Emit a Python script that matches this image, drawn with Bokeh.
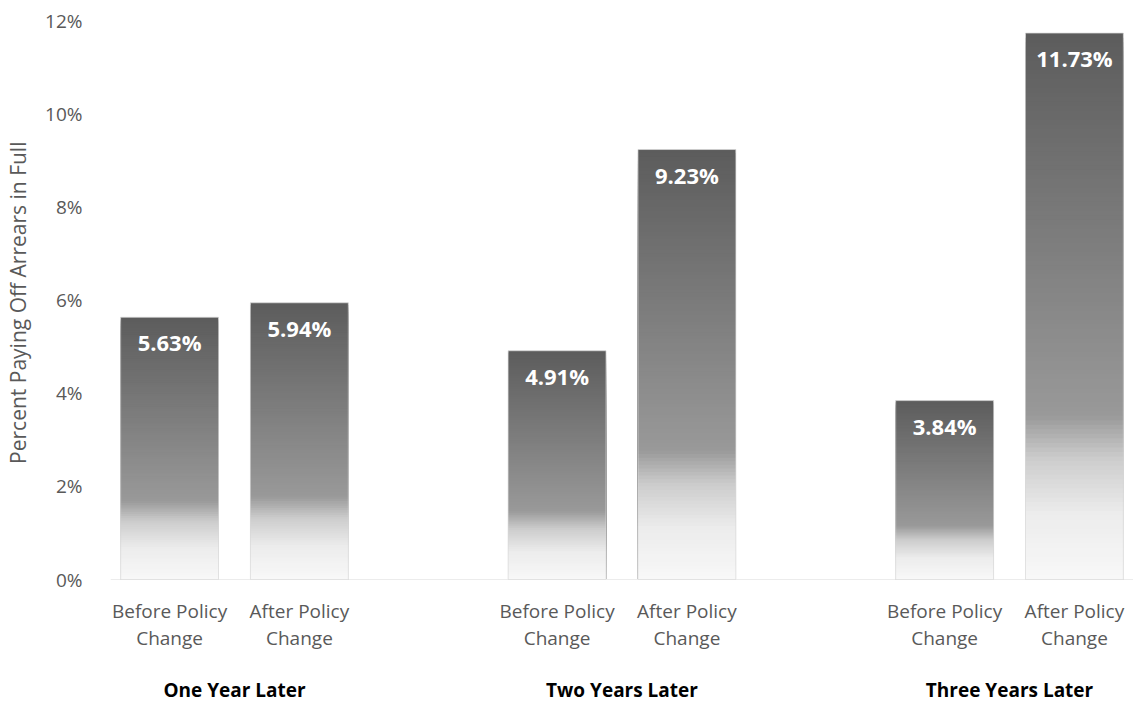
from bokeh.plotting import figure
from bokeh.layouts import column
from bokeh.models import FactorRange, Range1d, FixedTicker, Span, ColumnDataSource
from bokeh.core.properties import value
from bokeh.embed import file_html
from bokeh.resources import INLINE

# ---- data ----
groups = ["One Year Later", "Two Years Later", "Three Years Later"]
subgroups = ["Before Policy Change", "After Policy Change"]
values = [5.63, 5.94, 4.91, 9.23, 3.84, 11.73]
y_ticks = [0, 2, 4, 6, 8, 10, 12]
y_title = "Percent  Paying Off Arrears in Full"

factors = [(g, s) for g in groups for s in subgroups]

# gradient stops: (fraction from top of bar, grey level)
stops = [(0.0, 92), (0.70, 153), (0.78, 205), (0.88, 236), (1.0, 248)]
N = 120


def grey_at(f):
    for (f0, c0), (f1, c1) in zip(stops[:-1], stops[1:]):
        if f0 <= f <= f1:
            t = (f - f0) / (f1 - f0)
            c = int(round(c0 + (c1 - c0) * t))
            return "#%02x%02x%02x" % (c, c, c)
    c = stops[-1][1]
    return "#%02x%02x%02x" % (c, c, c)


# each slice runs from 0 up to its own top; drawn tallest first so that
# shorter slices cover the lower part -> no seams between slices
xs, tops, cols = [], [], []
for k in range(N, 0, -1):
    for fac, v in zip(factors, values):
        t = v * k / N
        frac_top = 1 - (k - 0.5) / N
        xs.append(fac)
        tops.append(t)
        cols.append(grey_at(frac_top))

slices = ColumnDataSource(dict(x=xs, top=tops, color=cols))

x_range = FactorRange(*factors, group_padding=0.985, factor_padding=0.0,
                      range_padding=-0.045, range_padding_units="absolute")

FONT = "Open Sans"
GREY = "#595959"
W = 1133
TOP_H = 592          # main figure (frame ends at 579, 13px spare for the 0% label)
BOT_H = 702 - TOP_H  # strip with the category labels
PAD = TOP_H - 579

p = figure(x_range=x_range, y_range=Range1d(0, 12),
           width=W, height=TOP_H, output_backend="svg", toolbar_location=None,
           min_border_left=110, min_border_right=0, min_border_top=20, min_border_bottom=PAD)
p.outline_line_color = None
p.xgrid.visible = False
p.ygrid.visible = False
p.xaxis.visible = False
p.border_fill_color = "white"

bar_w = 0.754
p.vbar(x="x", bottom=0, top="top", width=bar_w, source=slices,
       fill_color="color", line_color=None)
# light outline
p.vbar(x=factors, top=values, bottom=0, width=bar_w, fill_color=None,
       line_color="#d8d8d8", line_width=1, line_alpha=0.7)

base = Span(location=0, dimension="width", line_color="#d9d9d9", line_width=1)
p.add_layout(base)

# value labels
p.text(x=factors, y=values, text=["%.2f%%" % v for v in values],
       text_color="white", text_font=value(FONT), text_font_style="bold",
       text_font_size="22px", text_align="center", text_baseline="middle", y_offset=25)

# y axis
ya = p.yaxis[0]
ya.ticker = FixedTicker(ticks=y_ticks)
ya.major_label_overrides = {t: "%d%%" % t for t in y_ticks}
ya.axis_line_color = None
ya.major_tick_line_color = None
ya.minor_tick_line_color = None
ya.major_tick_out = 0
ya.major_label_standoff = 28
ya.major_label_text_color = GREY
ya.major_label_text_font = FONT
ya.major_label_text_font_size = "19px"
ya.axis_label = y_title
ya.axis_label_text_color = GREY
ya.axis_label_text_font = FONT
ya.axis_label_text_font_size = "21px"
ya.axis_label_text_font_style = "normal"
ya.axis_label_standoff = 10

# ---- category labels in a strip below, sharing the x range ----
# y in pixels below the baseline of the main chart
q = figure(x_range=x_range, y_range=Range1d(-(702 - 579), -PAD),
           width=W, height=BOT_H, output_backend="svg", toolbar_location=None,
           min_border_left=110, min_border_right=0, min_border_top=0, min_border_bottom=0)
q.outline_line_color = None
q.xgrid.visible = False
q.ygrid.visible = False
q.xaxis.visible = False
q.yaxis.visible = False
q.border_fill_color = "white"

line1 = [s.rsplit(" ", 1)[0] for g, s in factors]
line2 = [s.rsplit(" ", 1)[1] for g, s in factors]
q.text(x=factors, y=[0] * len(factors), text=line1, text_color=GREY,
       text_font=value(FONT), text_font_size="19px", text_align="center",
       text_baseline="middle", y_offset=31)
q.text(x=factors, y=[0] * len(factors), text=line2, text_color=GREY,
       text_font=value(FONT), text_font_size="19px", text_align="center",
       text_baseline="middle", y_offset=58)
q.text(x=groups, y=[0] * len(groups), text=groups, text_color="black",
       text_font=value(FONT), text_font_style="bold", text_font_size="19px",
       text_align="center", text_baseline="middle", y_offset=110)

layout = column(p, q, spacing=0)
open("out.html", "w").write(file_html(layout, INLINE))
